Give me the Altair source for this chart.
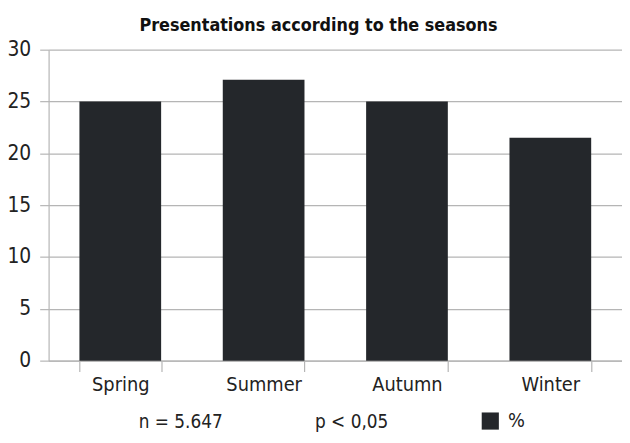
import altair as alt
import pandas as pd

seasons = ["Spring", "Summer", "Autumn", "Winter"]
percent = [25.0, 27.1, 25.0, 21.5]
notes = ["n = 5.647", "p < 0,05"]
y_ticks = [0, 5, 10, 15, 20, 25, 30]

FONT = "DejaVu Sans Condensed, DejaVu Sans, sans-serif"
BAR = "#24272b"
GRID = "#b5b5b5"

df = pd.DataFrame({"season": seasons, "pct": percent, "series": ["%"] * 4})

bars = alt.Chart(df).mark_bar(color=BAR).encode(
    x=alt.X("season:N", sort=seasons, title=None,
            scale=alt.Scale(paddingInner=0.43, paddingOuter=0.215),
            axis=alt.Axis(labelAngle=0, labelFontSize=20, labelPadding=3,
                          labelColor="#222", tickBand="extent", tickSize=11,
                          tickColor=GRID, domainColor=GRID, grid=False,
                          labelFont=FONT)),
    y=alt.Y("pct:Q", title=None,
            scale=alt.Scale(domain=[0, 30], nice=False),
            axis=alt.Axis(values=y_ticks, labelFontSize=21, labelPadding=9,
                          labelColor="#222", tickSize=9, tickColor=GRID,
                          domainColor=GRID, gridColor=GRID, grid=True,
                          labelFont=FONT)),
    fill=alt.Fill("series:N", scale=alt.Scale(range=[BAR]),
                  legend=alt.Legend(title=None, orient="none", legendX=436,
                                    legendY=365, symbolType="square",
                                    symbolSize=300, symbolStrokeWidth=0,
                                    labelFontSize=20, labelFont=FONT,
                                    labelColor="#222", labelOffset=8)),
)

notes_df = pd.DataFrame({"note": notes, "px": [140 - 49, 318 - 49]})
text = alt.Chart(notes_df).mark_text(
    align="left", baseline="middle", fontSize=19, font=FONT, color="#222"
).encode(
    x=alt.X("px:Q", scale=None),
    y=alt.value(376),
    text="note:N",
)

chart = alt.layer(bars, text).properties(
    width=579, height=314,
    title=alt.Title("Presentations according to the seasons", fontSize=18,
                    font=FONT, fontWeight="bold", color="#111",
                    frame="group", offset=4, anchor="middle", dx=-17),
    autosize=alt.AutoSizeParams(type="none"),
    padding={"left": 41, "top": 40, "right": 0, "bottom": 73},
).configure_view(stroke=None).configure_axis(domainWidth=1.2, tickWidth=1.2, gridWidth=1.2)

chart.save("out.html", embed_options={"renderer": "svg", "actions": False})
